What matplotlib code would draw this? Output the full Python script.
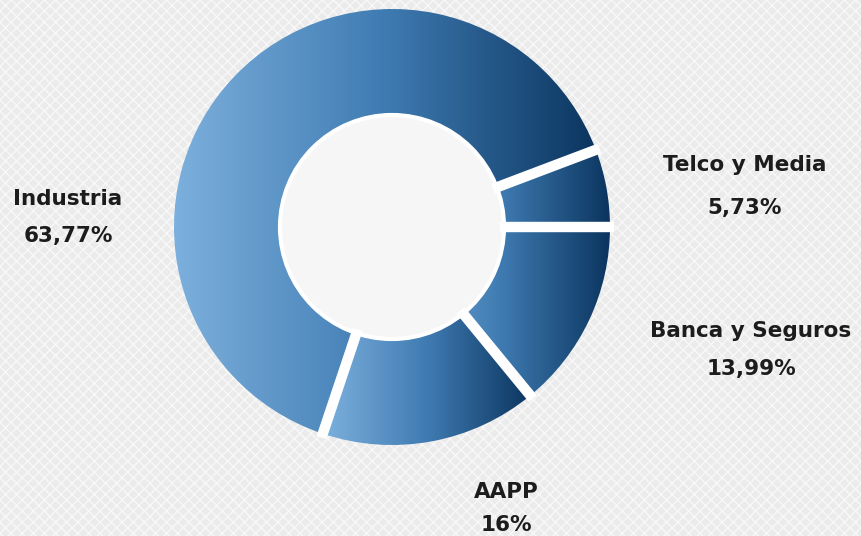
import numpy as np
import matplotlib.pyplot as plt
from matplotlib.colors import LinearSegmentedColormap
from matplotlib.patches import Rectangle, Circle

labels = ['Banca y Seguros', 'AAPP', 'Industria', 'Telco y Media']
values = [13.99, 16.0, 63.77, 5.73]
pct_text = ['13,99%', '16%', '63,77%', '5,73%']

W, H = 862, 536
fig = plt.figure(figsize=(W / 100, H / 100), dpi=100)
ax = fig.add_axes([0, 0, 1, 1])
ax.axis('off')

# textured light background
ax.add_patch(Rectangle((0, 0), W, H, facecolor='#ebebeb', edgecolor='#f8f8f8',
                       hatch='xxx', linewidth=0, zorder=0))

cmap = LinearSegmentedColormap.from_list('blu', ['#7db0dd', '#3f7bb2', '#0b355f'])

center = (392, H - 227)
r_out = 218
r_in = 112
wedges, _ = ax.pie(values, radius=r_out, center=center, startangle=0,
                   counterclock=False, frame=True,
                   wedgeprops=dict(width=r_out - r_in, facecolor='none',
                                   edgecolor='none', zorder=3))

grad = np.linspace(0, 1, 256).reshape(1, -1)
for w in wedges:
    verts = w.get_path().vertices
    x0, x1 = verts[:, 0].min(), verts[:, 0].max()
    y0, y1 = verts[:, 1].min(), verts[:, 1].max()
    im = ax.imshow(grad, cmap=cmap, extent=(x0, x1, y0, y1), aspect='auto',
                   interpolation='bicubic', zorder=2)
    im.set_clip_path(w)
    # white gap at each wedge boundary
    a = np.deg2rad(w.theta1)
    ax.plot([center[0] + (r_in - 4) * np.cos(a), center[0] + (r_out + 4) * np.cos(a)],
            [center[1] + (r_in - 4) * np.sin(a), center[1] + (r_out + 4) * np.sin(a)],
            color='white', lw=7.5, solid_capstyle='butt', zorder=4)

# pale centre hole
ax.add_patch(Circle(center, r_in, facecolor='#f6f6f6', edgecolor='white', lw=3, zorder=3))

ax.set_xlim(0, W)
ax.set_ylim(0, H)
ax.set_aspect('equal')

label_pos = {
    'Banca y Seguros': (751, 337, 375),
    'AAPP': (506, 498, 531),
    'Industria': (68, 205, 242),
    'Telco y Media': (745, 171, 214),
}
for lab, p in zip(labels, pct_text):
    x, y1, y2 = label_pos[lab]
    ax.text(x, H - y1, lab, ha='center', va='baseline', fontsize=15.5,
            fontweight='bold', color='#1c1c1c', zorder=5)
    ax.text(x, H - y2, p, ha='center', va='baseline', fontsize=15.5,
            fontweight='bold', color='#1c1c1c', zorder=5)

fig.savefig('out.png', dpi=100)
